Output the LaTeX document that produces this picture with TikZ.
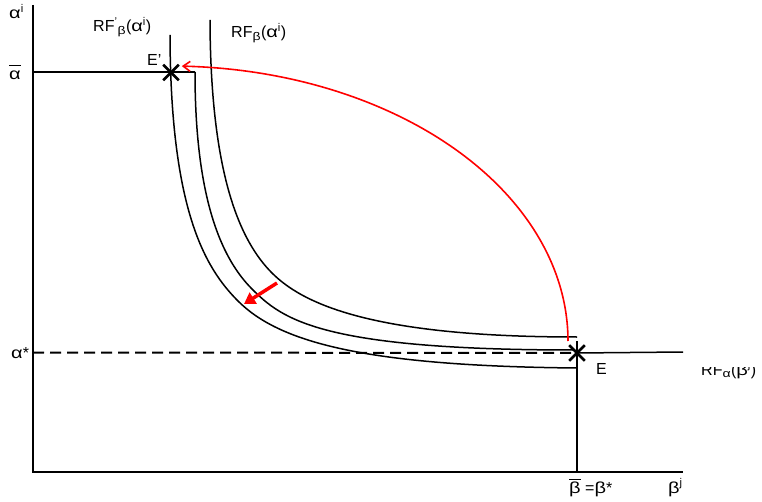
\documentclass[tikz,border=0pt]{standalone}
\usepackage{fontspec}
\setmainfont{Liberation Sans}
\newfontfamily\gkfont[FakeStretch=1.25]{Liberation Sans}
\usetikzlibrary{arrows.meta,shapes.misc}
\newcommand\ovlbar[2]{\vbox{\hrule height 0.9pt\kern #1\hbox{#2}}}
\newcommand\gk[1]{{\gkfont #1}}
\begin{document}
\begin{tikzpicture}[x=1pt,y=-1pt,
  curve/.style={line width=1.5pt},
  axis/.style={line width=2pt},
  lbl/.style={font=\fontsize{16}{19}\selectfont, inner sep=0pt, anchor=base west},
  xmark/.style={draw, cross out, line width=2.6pt, minimum size=13pt, inner sep=0pt}]
\useasboundingbox (0,0) rectangle (762,502);

% axes
\coordinate (ytop) at (33,5);
\coordinate (orig) at (33,472);
\coordinate (xend) at (683,472);
\draw[axis] (ytop) -- (orig) -- (xend);

% equilibrium points
\node[xmark] (Ep) at (171,72.5) {};
\node[xmark] (E) at (577,353) {};

% alpha-bar level
\coordinate (abar) at (33,72);
\coordinate (Bstart) at (195,72);
\draw[curve] (abar) -- (Bstart);

% curve C : RF_beta
\coordinate (Ctop) at (210,20);
\coordinate (Cend) at (577,337);
\draw[curve] (Ctop) .. controls (210.5,175) and (240,241) .. (272,273)
  .. controls (302,303) and (370,337) .. (Cend);
% curve B : middle
\coordinate (Bend) at (575,350);
\draw[curve] (Bstart) .. controls (195,200) and (222,259) .. (252,289)
  .. controls (282,319) and (320,350) .. (Bend);
% curve A : RF'_beta
\coordinate (Atop) at (170,35);
\coordinate (Aend) at (577,368);
\draw[curve] (Atop) .. controls (170.5,210) and (205,268) .. (238,301)
  .. controls (278,341) and (360,366) .. (Aend);

% RF_alpha and beta-bar
\coordinate (Eright) at (683,352);
\coordinate (bbar) at (577,472);
\coordinate (vtop) at (577,341);
\draw[curve] (E.center) -- (Eright);
\draw[curve] (vtop) -- (bbar);

% dashed alpha*
\coordinate (astar) at (33,352.5);
\draw[line width=2pt, dash pattern=on 11pt off 6pt] (astar) -- (E.center);

% red arc from E to E'
\draw[red, line width=1.6pt, -{Straight Barb[length=7pt,width=10pt,line width=1.6pt]}]
  plot[domain=0:88.3, samples=90] ({170+398*cos(\x)},{341-275*sin(\x)});

% red shift arrow
\coordinate (rs) at (277,283);
\coordinate (re) at (244,304);
\draw[red, line width=3.5pt, -{Triangle[length=11pt,width=13pt]}] (rs) -- (re);

% labels
\node[lbl] (lai) at (9,19) {\gk{α}\textsuperscript{i}};
\node[lbl] (labar) at (9,80) {\ovlbar{5pt}{\gk{α}}};
\node[lbl] (last) at (11,358) {\gk{α}*};
\node[lbl] (lrfp) at (93,32) {RF\textsuperscript{'}\textsubscript{\gk{β}}(\gk{α}\textsuperscript{i})};
\node[lbl] (lrf) at (231,38) {RF\textsubscript{\gk{β}}(\gk{α}\textsuperscript{i})};
\node[lbl] (lEp) at (147,66) {E'};
\node[lbl] (lE) at (596,374) {E};
\begin{scope}
\clip (690,367) rectangle (762,400);
\node[lbl] (lrfa) at (701,375) {RF\textsubscript{\gk{α}}(\gk{β}\textsuperscript{j})};
\end{scope}
\node[lbl] (lbb) at (569,493) {\ovlbar{2pt}{\gk{β}} =\gk{β}*};
\node[lbl] (lbj) at (668,493) {\gk{β}\textsuperscript{j}};
\end{tikzpicture}
\end{document}
